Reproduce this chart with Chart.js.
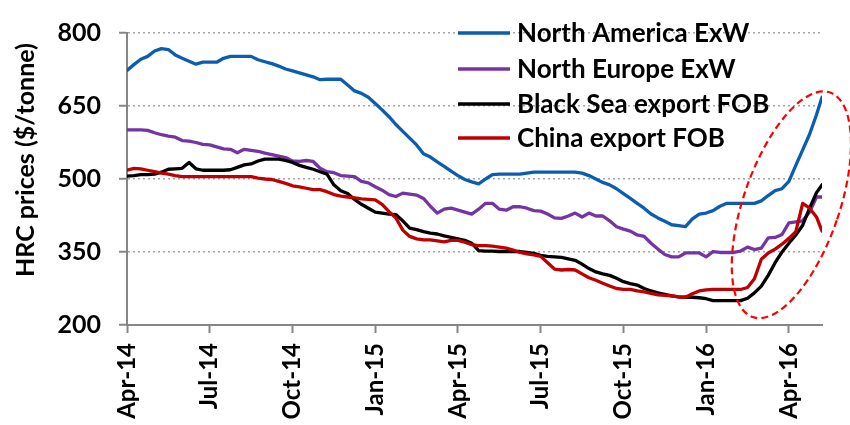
<!DOCTYPE html>
<html>
<head>
<meta charset="utf-8">
<script src="https://cdn.jsdelivr.net/npm/chart.js@4.4.1/dist/chart.umd.min.js"></script>
<style>
  html, body { margin: 0; padding: 0; background: #ffffff; }
  #wrap { width: 850px; height: 425px; }
</style>
</head>
<body>
<div id="wrap"><canvas id="c" width="850" height="425"></canvas></div>
<script>
// ---- DATA ----
const seriesNames = ['North America ExW', 'North Europe ExW', 'Black Sea export FOB', 'China export FOB'];

// sample positions: months since Apr-14 (roughly weekly)
const monthsSinceApr14 = Array.from({ length: 101 }, (_, i) => i / 4).concat([25.2]);

const northAmerica = [
  723, 735, 746, 752,  763, 768, 766, 755,  748, 742, 736, 740,  740, 740, 748, 752,
  752, 752, 752, 745,  741, 737, 732, 726,  722, 718, 714, 710,  704, 705, 705, 705,
  693, 681, 676, 668,  655, 642, 628, 612,  598, 584, 570, 552,  545, 535, 526, 516,
  507, 499, 494, 490,  500, 509, 510, 510,  510, 510, 512, 514,  514, 514, 514, 514,
  514, 514, 512, 507,  500, 493, 488, 480,  470, 460, 450, 440,  428, 420, 413, 406,
  404, 402, 418, 428,  430, 435, 444, 450,  450, 450, 450, 450,  455, 466, 476, 480,
  495, 528, 560, 592,  632, 668
];

const northEurope = [
  601, 601, 601, 600,  595, 591, 588, 586,  579, 578, 575, 571,  570, 566, 562, 561,
  554, 561, 559, 557,  553, 550, 547, 544,  537, 536, 538, 536,  522, 515, 513, 507,
  506, 505, 495, 492,  484, 477, 468, 464,  471, 469, 467, 460,  444, 430, 438, 440,
  436, 432, 428, 438,  450, 450, 438, 436,  443, 443, 440, 435,  434, 428, 420, 419,
  424, 430, 422, 430,  424, 424, 414, 402,  397, 393, 385, 382,  368, 356, 345, 340,
  340, 348, 348, 348,  340, 351, 349, 349,  349, 352, 360, 355,  358, 379, 380, 386,
  410, 412, 414, 432,  463, 463
];

const blackSea = [
  506, 507, 509, 509,  510, 514, 520, 521,  522, 534, 521, 518,  518, 518, 518, 519,
  524, 529, 531, 537,  541, 541, 541, 538,  534, 528, 524, 520,  515, 510, 488, 476,
  470, 458, 448, 440,  432, 430, 428, 427,  414, 399, 396, 392,  389, 387, 383, 380,
  377, 374, 368, 353,  352, 352, 351, 351,  351, 351, 349, 347,  343, 341, 340, 339,
  336, 333, 325, 316,  309, 305, 302, 296,  289, 285, 282, 275,  270, 266, 263, 260,
  258, 257, 257, 256,  254, 250, 250, 250,  250, 250, 255, 266,  280, 302, 328, 350,
  368, 385, 405, 440,  472, 488
];

const china = [
  518, 522, 521, 518,  515, 512, 510, 507,  505, 505, 505, 505,  505, 505, 505, 505,
  505, 505, 505, 502,  500, 499, 495, 491,  486, 484, 481, 478,  478, 474, 468, 465,
  463, 461, 459, 458,  457, 448, 433, 420,  395, 382, 377, 375,  375, 373, 371, 374,
  374, 370, 365, 363,  363, 362, 360, 358,  354, 349, 346, 344,  341, 328, 315, 313,
  314, 313, 305, 297,  292, 286, 280, 275,  273, 273, 270, 268,  265, 262, 261, 260,
  258, 257, 264, 270,  272, 273, 273, 273,  273, 273, 277, 295,  335, 348, 356, 366,
  378, 392, 450, 440,  422, 393
];

const xTickMonths = [0, 3, 6, 9, 12, 15, 18, 21, 24];
const xTickLabels = ['Apr-14', 'Jul-14', 'Oct-14', 'Jan-15', 'Apr-15', 'Jul-15', 'Oct-15', 'Jan-16', 'Apr-16'];
const yTickValues = [200, 350, 500, 650, 800];
const yAxisTitle = 'HRC prices ($/tonne)';

// highlighted region (red dashed ellipse), in data units
const highlightCentre = { month: 24.09, price: 447 };
const highlightHalfSize = { months: 1.74, price: 244 };
const highlightTiltDeg = 19;

// ---- STYLE ----
const FONT = 'Lato, "Liberation Sans", Arial, sans-serif';
const colors = ['#0B5DB0', '#7434A4', '#000000', '#C00000'];
const AXIS = '#868686';

const seriesValues = [northAmerica, northEurope, blackSea, china];

const datasets = seriesValues.map((vals, s) => ({
  label: seriesNames[s],
  data: monthsSinceApr14.map((m, i) => ({ x: m, y: vals[i] })),
  borderColor: colors[s],
  backgroundColor: colors[s],
  borderWidth: 3.3,
  pointRadius: 0,
  tension: 0,
  fill: false,
  order: 4 - s,
  borderJoinStyle: 'round',
  borderCapStyle: 'round'
}));

const legendPlugin = {
  id: 'insideLegend',
  afterDraw(chart) {
    const ctx = chart.ctx;
    const rows = [33, 69, 104, 138];
    ctx.save();
    ctx.font = 'bold 26px ' + FONT;
    ctx.textBaseline = 'middle';
    ctx.textAlign = 'left';
    chart.data.datasets.forEach((ds, i) => {
      ctx.strokeStyle = ds.borderColor;
      ctx.lineWidth = 3.5;
      ctx.beginPath();
      ctx.moveTo(458, rows[i]);
      ctx.lineTo(510, rows[i]);
      ctx.stroke();
      ctx.fillStyle = '#000';
      ctx.fillText(ds.label, 517, rows[i] + 1);
    });
    ctx.restore();
  }
};

const axisTitlePlugin = {
  id: 'yTitle',
  afterDraw(chart) {
    const ctx = chart.ctx;
    ctx.save();
    ctx.translate(26, 160);
    ctx.rotate(-Math.PI / 2);
    ctx.font = 'bold 25px ' + FONT;
    ctx.fillStyle = '#000';
    ctx.textAlign = 'center';
    ctx.textBaseline = 'middle';
    ctx.fillText(yAxisTitle, 0, 0);
    ctx.restore();
  }
};

const ellipsePlugin = {
  id: 'highlightEllipse',
  afterDraw(chart) {
    const xs = chart.scales.x, ys = chart.scales.y, ctx = chart.ctx;
    const cx = xs.getPixelForValue(highlightCentre.month);
    const cy = ys.getPixelForValue(highlightCentre.price);
    const rx = xs.getPixelForValue(highlightCentre.month + highlightHalfSize.months) - cx;
    const ry = ys.getPixelForValue(highlightCentre.price - highlightHalfSize.price) - cy;
    ctx.save();
    ctx.strokeStyle = '#FF0000';
    ctx.lineWidth = 2.2;
    ctx.setLineDash([7, 4]);
    ctx.beginPath();
    ctx.ellipse(cx, cy, rx, ry, highlightTiltDeg * Math.PI / 180, 0, Math.PI * 2);
    ctx.stroke();
    ctx.restore();
  }
};

new Chart(document.getElementById('c'), {
  type: 'line',
  data: { datasets },
  options: {
    responsive: false,
    animation: false,
    devicePixelRatio: 1,
    layout: { padding: { left: 0, top: 23, right: 28, bottom: 0 } },
    plugins: { legend: { display: false }, tooltip: { enabled: false } },
    scales: {
      x: {
        type: 'linear',
        min: 0,
        max: 25.2,
        afterBuildTicks: (scale) => { scale.ticks = xTickMonths.map(v => ({ value: v })); },
        afterFit: (scale) => { scale.height = 100; },
        ticks: {
          autoSkip: false,
          maxRotation: 90,
          minRotation: 90,
          padding: 10,
          color: '#000',
          font: { family: FONT, size: 24, weight: 'bold' },
          callback: (v) => xTickLabels[xTickMonths.indexOf(v)]
        },
        grid: { drawOnChartArea: false, drawTicks: true, tickLength: 8, tickColor: AXIS, tickWidth: 2 },
        border: { color: AXIS, width: 2 }
      },
      y: {
        type: 'linear',
        min: 200,
        max: 800,
        afterBuildTicks: (scale) => { scale.ticks = yTickValues.map(v => ({ value: v })); },
        afterFit: (scale) => { scale.width = 127; },
        ticks: {
          padding: 18,
          color: '#000',
          font: { family: FONT, size: 25, weight: 'bold' }
        },
        title: { display: false },
        grid: {
          color: (c) => (c.tick && c.tick.value === 200) ? 'rgba(0,0,0,0)' : '#A6A6A6',
          lineWidth: 1.5,
          drawTicks: true,
          tickLength: 8,
          tickColor: AXIS,
          tickWidth: 2,
          tickBorderDash: []
        },
        border: { color: AXIS, width: 2, dash: [2, 3] }
      }
    }
  },
  plugins: [legendPlugin, axisTitlePlugin, ellipsePlugin]
});
</script>
</body>
</html>
